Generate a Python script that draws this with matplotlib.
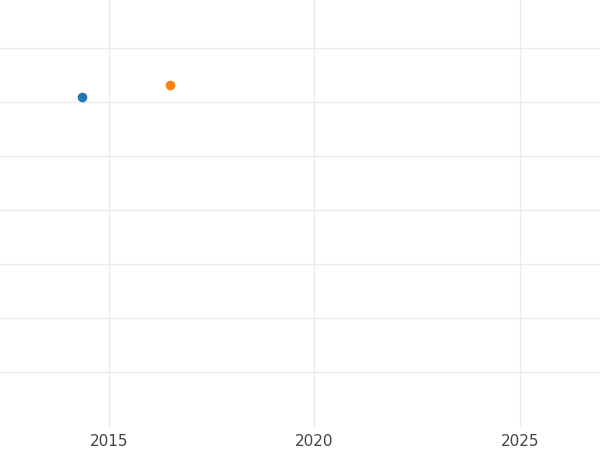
import numpy as np
import matplotlib.pyplot as plt

# data
years = [2014.35, 2016.48]
values = [6.09, 6.31]
colors = ['#1f77b4', '#ff7f0e']
xticks = [2015, 2020, 2025]
yticks = [1, 2, 3, 4, 5, 6, 7]

fig = plt.figure(figsize=(6, 4.5), dpi=100)
ax = fig.add_axes([0, 0.051, 1, 0.949])

for x, y, c in zip(years, values, colors):
    ax.scatter([x], [y], color=c, s=48, zorder=3, linewidths=0)

ax.set_xlim(2012.35, 2026.95)
ax.set_ylim(-0.0185, 7.889)
ax.set_xticks(xticks)
ax.set_yticks(yticks)
ax.set_yticklabels([])

ax.grid(True, color='#ebebeb', linewidth=1.0)
ax.set_axisbelow(True)
ax.tick_params(axis='both', length=0, colors='#444444', labelsize=11, pad=5)

for s in ax.spines.values():
    s.set_visible(False)

plt.savefig('out.png', dpi=100)
